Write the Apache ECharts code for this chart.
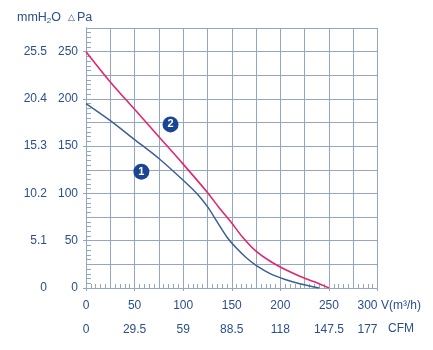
<!DOCTYPE html>
<html>
<head>
<meta charset="utf-8">
<script src="https://cdn.jsdelivr.net/npm/echarts@6/dist/echarts.min.js"></script>
<style>
  html, body { margin: 0; padding: 0; background: #fff; }
  #chart { width: 433px; height: 350px; }
</style>
</head>
<body>
<div id="chart"></div>
<script>
// Fan performance curves: static pressure against air volume.
const curve1Flow = [0, 25, 50, 75, 100, 115, 125, 135, 145, 155, 165, 175, 190, 205, 220, 240];
const curve1Pa   = [195, 177, 157, 137, 114, 99, 86, 70, 54, 42, 32, 24, 15, 9, 4.5, 0];

const curve2Flow = [0, 25, 50, 75, 100, 125, 137, 149, 161, 175, 190, 205, 220, 235, 250];
const curve2Pa   = [250, 218, 189, 160, 131, 101, 85, 70, 54, 39, 28, 19.5, 12.5, 6.5, 0];

// Numbered badges next to each curve
const badgeLabels = ['1', '2'];
const badgeFlow   = [57, 87];
const badgePa     = [123, 173];

// Secondary scale labels (mmH2O for every 50 Pa)
const mmLabels = ['0', '5.1', '10.2', '15.3', '20.4', '25.5'];

const textColor = '#2b4f8e';
const gridColor = '#93a6c6';
const font = 'Liberation Sans, Arial, sans-serif';

const pairs = (xs, ys) => xs.map((x, i) => [x, ys[i]]);

const chart = echarts.init(document.getElementById('chart'), null, { renderer: 'canvas' });

chart.setOption({
  animation: false,
  backgroundColor: '#fff',
  textStyle: { fontFamily: font },
  grid: { left: 86, right: 55.5, top: 28, bottom: 62, containLabel: false },
  xAxis: [
    {
      type: 'value', min: 0, max: 300, interval: 25, position: 'bottom',
      axisLine: { show: true, lineStyle: { color: gridColor, width: 1 } },
      axisTick: { show: true, inside: true, length: 4, lineStyle: { color: gridColor } },
      minorTick: { show: true, splitNumber: 5, length: 4, lineStyle: { color: gridColor } },
      splitLine: { show: true, lineStyle: { color: gridColor, width: 1 } },
      axisLabel: {
        color: textColor, fontSize: 12, fontFamily: font, margin: 12, alignMaxLabel: 'right',
        formatter: v => (v % 50 === 0 ? String(v) : '')
      }
    },
    {
      type: 'value', min: 0, max: 177, interval: 29.5, position: 'bottom', offset: 29,
      axisLine: { show: true, lineStyle: { color: gridColor, width: 1 } },
      axisTick: { show: true, length: 3, lineStyle: { color: gridColor } },
      splitLine: { show: false },
      axisLabel: { color: textColor, fontSize: 12, fontFamily: font, margin: 7, alignMaxLabel: 'right' }
    }
  ],
  yAxis: [
    {
      type: 'value', min: 0, max: 275, interval: 25, position: 'left',
      axisLine: { show: true, lineStyle: { color: gridColor, width: 1 } },
      axisTick: { show: true, inside: true, length: 5, lineStyle: { color: gridColor } },
      minorTick: { show: true, splitNumber: 5, length: 5, lineStyle: { color: gridColor } },
      splitLine: { show: true, lineStyle: { color: gridColor, width: 1 } },
      axisLabel: {
        color: textColor, fontSize: 12, fontFamily: font, margin: 8, showMaxLabel: false,
        formatter: v => (v % 50 === 0 ? String(v) : '')
      }
    },
    {
      type: 'value', min: 0, max: 275, interval: 50, position: 'left', offset: 32,
      axisLine: { show: true, lineStyle: { color: gridColor, width: 1 } },
      axisTick: { show: true, length: 3, lineStyle: { color: gridColor } },
      splitLine: { show: false },
      axisLabel: {
        color: textColor, fontSize: 12, fontFamily: font, margin: 7, showMaxLabel: false,
        formatter: v => (v % 50 === 0 && mmLabels[v / 50] !== undefined ? mmLabels[v / 50] : '')
      }
    }
  ],
  graphic: [
    {
      type: 'text', left: 17, top: 11,
      style: {
        text: '{a|mmH}{s|2}{a|O}',
        rich: {
          a: { fontSize: 12.5, fontFamily: font, fill: textColor },
          s: { fontSize: 8, fontFamily: font, fill: textColor, padding: [6, 0, 0, 0] }
        }
      }
    },
    {
      type: 'text', left: 68, top: 11,
      style: {
        text: '{t|△}{a|Pa}',
        rich: {
          t: { fontSize: 9, fontFamily: font, fill: textColor, padding: [1, 2, 0, 0] },
          a: { fontSize: 12.5, fontFamily: font, fill: textColor }
        }
      }
    },
    {
      type: 'text', left: 381, top: 300,
      style: { text: 'V(m³/h)', fontSize: 12, fontFamily: font, fill: textColor }
    },
    {
      type: 'text', left: 388, top: 323,
      style: { text: 'CFM', fontSize: 12, fontFamily: font, fill: textColor }
    }
  ],
  series: [
    {
      type: 'line', name: '1', xAxisIndex: 0, yAxisIndex: 0,
      data: pairs(curve1Flow, curve1Pa), smooth: 0.3, symbol: 'none',
      lineStyle: { color: '#3d5f96', width: 1.5 }, z: 3
    },
    {
      type: 'line', name: '2', xAxisIndex: 0, yAxisIndex: 0,
      data: pairs(curve2Flow, curve2Pa), smooth: 0.3, symbol: 'none',
      lineStyle: { color: '#e2266f', width: 1.6 }, z: 4
    },
    {
      type: 'scatter', xAxisIndex: 0, yAxisIndex: 0,
      data: badgeFlow.map((x, i) => ({ value: [x, badgePa[i]], name: badgeLabels[i] })),
      symbol: 'circle', symbolSize: 16,
      itemStyle: { color: '#1a4592', opacity: 1 },
      label: {
        show: true, position: 'inside', formatter: p => p.name,
        color: '#fff', fontSize: 11, fontWeight: 'bold', fontFamily: font
      },
      z: 5
    }
  ]
});
</script>
</body>
</html>
